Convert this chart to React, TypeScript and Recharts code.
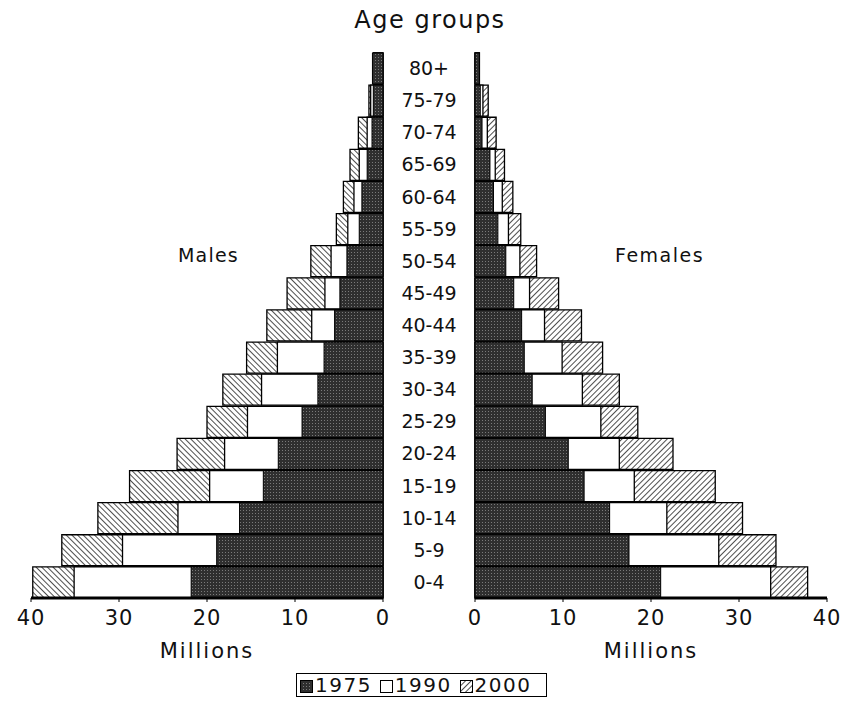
import React from 'react'
import { BarChart, Bar, XAxis, YAxis } from 'recharts'

const ageGroups = ['0-4', '5-9', '10-14', '15-19', '20-24', '25-29', '30-34', '35-39', '40-44', '45-49', '50-54', '55-59', '60-64', '65-69', '70-74', '75-79', '80+']

const males1975 = [21.8, 18.9, 16.3, 13.6, 11.9, 9.2, 7.4, 6.7, 5.5, 4.9, 4.1, 2.7, 2.4, 1.8, 1.25, 1.1, 1.2]
const males1990 = [35.1, 29.6, 23.3, 19.7, 18.0, 15.4, 13.8, 12.0, 8.1, 6.6, 5.9, 4.0, 3.3, 2.7, 1.8, 1.4, 1.1]
const males2000 = [39.8, 36.5, 32.4, 28.8, 23.4, 20.0, 18.2, 15.5, 13.2, 10.9, 8.2, 5.3, 4.5, 3.75, 2.8, 1.6, 1.1]

const females1975 = [21.1, 17.5, 15.3, 12.4, 10.6, 8.0, 6.5, 5.6, 5.3, 4.4, 3.5, 2.6, 2.1, 1.7, 0.8, 0.6, 0.5]
const females1990 = [33.6, 27.7, 21.8, 18.1, 16.4, 14.3, 12.2, 9.9, 7.9, 6.2, 5.1, 3.8, 3.1, 2.3, 1.4, 0.9, 0.5]
const females2000 = [37.8, 34.2, 30.4, 27.3, 22.5, 18.5, 16.4, 14.5, 12.1, 9.5, 7.0, 5.2, 4.3, 3.35, 2.4, 1.5, 0.5]

const xTicks = [0, 10, 20, 30, 40]

const maleData = ageGroups.map((age, i) => ({ age, y1975: males1975[i], y1990: males1990[i], y2000: males2000[i] }))
const femaleData = ageGroups.map((age, i) => ({ age, y1975: females1975[i], y1990: females1990[i], y2000: females2000[i] }))

const FONT = '"DejaVu Sans", sans-serif'
const BAR = 31

function Patterns({ side }: { side: 'L' | 'R' }) {
  return (
    <defs>
      <pattern id={'dots' + side} width={3} height={3} patternUnits="userSpaceOnUse">
        <rect width={3} height={3} fill="#2f2f2f" />
        <rect width={1} height={1} fill="#7a7a7a" />
      </pattern>
      <pattern
        id={'hatch' + side}
        width={4}
        height={4}
        patternUnits="userSpaceOnUse"
        patternTransform={side === 'L' ? 'rotate(-45)' : 'rotate(45)'}
      >
        <rect width={4} height={4} fill="#fff" />
        <line x1={0} y1={0} x2={0} y2={4} stroke="#222" strokeWidth={1.6} />
      </pattern>
    </defs>
  )
}

const AgeTick = (props: any) => {
  const { x, y, payload } = props
  return (
    <text x={x + 46} y={y} dy={7} textAnchor="middle" fontSize={19} fontFamily={FONT} fill="#111">
      {payload.value}
    </text>
  )
}

// value labels under the millions axis
const MillionTick = (props: any) => {
  const { x, y, payload } = props
  return (
    <text x={x} y={y} dy={17} textAnchor="middle" fontSize={21} letterSpacing={1} fontFamily={FONT} fill="#111">
      {payload.value}
    </text>
  )
}

function Series({ side }: { side: 'L' | 'R' }) {
  return [
    <Bar key="2000" dataKey="y2000" fill={`url(#hatch${side})`} stroke="#000" strokeWidth={1.3} barSize={BAR} isAnimationActive={false} />,
    <Bar key="1990" dataKey="y1990" fill="#fff" stroke="#000" strokeWidth={1.3} barSize={BAR} isAnimationActive={false} />,
    <Bar key="1975" dataKey="y1975" fill={`url(#dots${side})`} stroke="#000" strokeWidth={1} barSize={BAR} isAnimationActive={false} />,
  ]
}

const axisProps = {
  type: 'number' as const,
  domain: [0, 40],
  ticks: xTicks,
  interval: 0,
  height: 67,
  axisLine: { stroke: '#000', strokeWidth: 3 },
  tickLine: { stroke: '#000' },
  tickSize: 4,
  tickMargin: 6,
  tick: <MillionTick />,
  label: { value: 'Millions', position: 'insideBottom' as const, offset: 7, fontSize: 21, letterSpacing: 2, fontFamily: FONT, fill: '#111' },
}

function LegendSwatch({ kind }: { kind: string }) {
  return (
    <svg width={13} height={13} style={{ marginRight: 2, verticalAlign: '-1px' }}>
      <Patterns side="R" />
      <rect x={0.5} y={0.5} width={12} height={12} stroke="#000" fill={kind === 'dots' ? 'url(#dotsR)' : kind === 'hatch' ? 'url(#hatchR)' : '#fff'} />
    </svg>
  )
}

export default function App() {
  return (
    <div style={{ position: 'absolute', left: 0, top: 0, width: 844, height: 701, background: '#fff', fontFamily: FONT, color: '#111' }}>
      <div style={{ position: 'absolute', left: 0, width: 860, top: 6, textAlign: 'center', fontSize: 24, letterSpacing: 1.5 }}>Age groups</div>
      <div style={{ position: 'absolute', left: 178, top: 244, fontSize: 19, letterSpacing: 1.2 }}>Males</div>
      <div style={{ position: 'absolute', left: 615, top: 244, fontSize: 19, letterSpacing: 1.5 }}>Females</div>

      <div style={{ position: 'absolute', left: 455, top: 0 }}>
        <BarChart width={389} height={665} data={femaleData} layout="vertical" margin={{ top: 52, right: 17, bottom: 0, left: 20 }} barGap={-BAR} barCategoryGap={0}>
          <Patterns side="R" />
          <XAxis {...axisProps} />
          <YAxis type="category" dataKey="age" hide reversed />
          {Series({ side: 'R' })}
        </BarChart>
      </div>

      <div style={{ position: 'absolute', left: 0, top: 0, width: 455, overflow: 'visible' }}>
        <BarChart width={475} height={665} data={maleData} layout="vertical" margin={{ top: 52, right: 0, bottom: 0, left: 31 }} barGap={-BAR} barCategoryGap={0}>
          <Patterns side="L" />
          <XAxis {...axisProps} reversed />
          <YAxis type="category" dataKey="age" orientation="right" width={92} reversed axisLine={false} tickLine={false} tickSize={0} tickMargin={0} tick={<AgeTick />} interval={0} />
          {Series({ side: 'L' })}
        </BarChart>
      </div>

      <div style={{ position: 'absolute', left: 296, top: 673, width: 251, height: 24, border: '1.5px solid #000', fontSize: 20, letterSpacing: 1.5, lineHeight: '23px', paddingLeft: 3, boxSizing: 'border-box', whiteSpace: 'nowrap' }}>
        <LegendSwatch kind="dots" />1975 <LegendSwatch kind="white" />1990 <LegendSwatch kind="hatch" />2000
      </div>
    </div>
  )
}
